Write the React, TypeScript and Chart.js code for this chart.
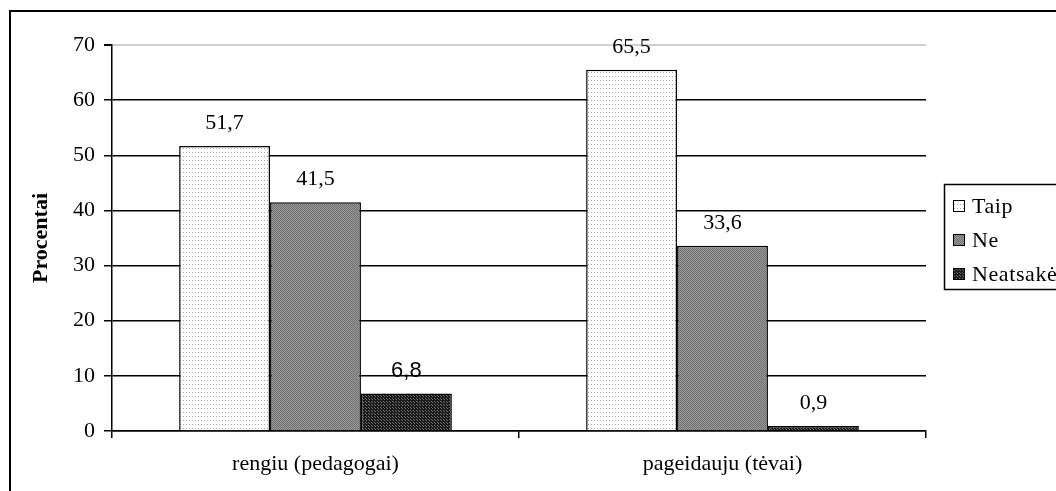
import React, { useEffect, useRef } from 'react';
import { Chart, registerables } from 'chart.js';

Chart.register(...registerables);

const categories = ['rengiu (pedagogai)', 'pageidauju (tėvai)'];
const seriesNames = ['Taip', 'Ne', 'Neatsakė'];
const taipValues = [51.7, 65.5];
const neValues = [41.5, 33.6];
const neatsakeValues = [6.8, 0.9];
const yTicks = [0, 10, 20, 30, 40, 50, 60, 70];

const SERIF = '"Liberation Serif", "Times New Roman", serif';
const SANS = '"Liberation Sans", Arial, sans-serif';
const FONT_SIZE = 22;

function makePattern(kind: string): CanvasPattern | string {
  const c = document.createElement('canvas');
  const g = c.getContext('2d');
  if (!g) return '#888';
  if (kind === 'dots') {
    c.width = 3; c.height = 4;
    g.fillStyle = '#ffffff'; g.fillRect(0, 0, 3, 4);
    g.fillStyle = '#a8a8a8'; g.fillRect(0, 0, 1, 1);
  } else if (kind === 'grey') {
    c.width = 2; c.height = 2;
    g.fillStyle = '#969696'; g.fillRect(0, 0, 2, 2);
    g.fillStyle = '#747474'; g.fillRect(0, 0, 1, 1); g.fillRect(1, 1, 1, 1);
  } else {
    c.width = 3; c.height = 3;
    g.fillStyle = '#1c1c1c'; g.fillRect(0, 0, 3, 3);
    g.fillStyle = '#6a6a6a'; g.fillRect(0, 0, 1, 1); g.fillRect(2, 2, 1, 1);
  }
  const p = g.createPattern(c, 'repeat');
  return p || '#888';
}

const framePlugin = {
  id: 'frame',
  beforeDraw(chart: any) {
    const ctx = chart.ctx;
    ctx.save();
    ctx.fillStyle = '#ffffff';
    ctx.fillRect(0, 0, chart.width, chart.height);
    ctx.strokeStyle = '#000';
    ctx.lineWidth = 2;
    ctx.strokeRect(10, 11, 3000, 3000);
    ctx.restore();
  },
};

const valueLabelPlugin = {
  id: 'valueLabels',
  afterDatasetsDraw(chart: any) {
    const ctx = chart.ctx;
    ctx.save();
    ctx.fillStyle = '#000';
    ctx.textAlign = 'center';
    ctx.textBaseline = 'middle';
    chart.data.datasets.forEach((ds: any, di: number) => {
      const meta = chart.getDatasetMeta(di);
      meta.data.forEach((bar: any, i: number) => {
        const v = ds.data[i] as number;
        const sans = di === 2 && i === 0;
        ctx.font = `${FONT_SIZE}px ${sans ? SANS : SERIF}`;
        ctx.fillText(v.toFixed(1).replace('.', ','), bar.x, bar.y - 23);
      });
    });
    ctx.restore();
  },
};

const legendPlugin = {
  id: 'customLegend',
  afterDraw(chart: any) {
    const ctx = chart.ctx;
    ctx.save();
    ctx.strokeStyle = '#000';
    ctx.lineWidth = 1.5;
    ctx.strokeRect(944.5, 184.5, 300, 105);
    ctx.font = `${FONT_SIZE}px ${SERIF}`;
    ctx.textBaseline = 'middle';
    ctx.textAlign = 'left';
    try { (ctx as any).letterSpacing = '0.6px'; } catch (e) { /* ignore */ }
    chart.data.datasets.forEach((ds: any, i: number) => {
      const cy = 206 + i * 34;
      ctx.fillStyle = ds.backgroundColor;
      ctx.fillRect(953, cy - 6, 12, 12);
      ctx.lineWidth = 1;
      ctx.strokeStyle = '#000';
      ctx.strokeRect(953.5, cy - 5.5, 11, 11);
      ctx.fillStyle = '#000';
      ctx.fillText(ds.label, 972, cy + 1);
    });
    ctx.restore();
  },
};

export default function App() {
  const ref = useRef<HTMLCanvasElement | null>(null);

  useEffect(() => {
    if (!ref.current) return;
    Chart.defaults.color = '#000';
    const fills = [makePattern('dots'), makePattern('grey'), makePattern('dark')];
    const values = [taipValues, neValues, neatsakeValues];
    const chart = new Chart(ref.current, {
      type: 'bar',
      data: {
        labels: categories,
        datasets: seriesNames.map((name, i) => ({
          label: name,
          data: values[i],
          backgroundColor: fills[i] as any,
          borderColor: '#000',
          borderWidth: 1.5,
          categoryPercentage: 0.67,
          barPercentage: 1,
        })),
      },
      options: {
        animation: false,
        responsive: false,
        devicePixelRatio: 1,
        layout: { padding: { top: 45, right: 130, bottom: 0, left: 0 } },
        plugins: {
          legend: { display: false },
          tooltip: { enabled: false },
        },
        scales: {
          x: {
            offset: true,
            grid: {
              offset: true,
              drawOnChartArea: false,
              drawTicks: true,
              tickLength: 7,
              color: '#000',
              lineWidth: 1.5,
            },
            border: { display: true, color: '#000', width: 1.5 },
            ticks: {
              color: '#000',
              font: { family: SERIF, size: FONT_SIZE },
              padding: 13,
              maxRotation: 0,
            },
            afterFit: (scale: any) => { scale.height = 60; },
          },
          y: {
            min: 0,
            max: 70,
            afterBuildTicks: (scale: any) => {
              scale.ticks = yTicks.map((v) => ({ value: v }));
            },
            grid: {
              color: (c: any) => (c.tick && c.tick.value === 70 ? '#d0d0d0' : '#000'),
              lineWidth: (c: any) => (c.tick && c.tick.value === 70 ? 2 : 1.5),
              tickColor: '#000',
              tickLength: 8,
              drawTicks: true,
            },
            border: { display: true, color: '#000', width: 1.5 },
            ticks: {
              color: '#000',
              font: { family: SERIF, size: FONT_SIZE },
              padding: 9,
            },
            title: {
              display: true,
              text: 'Procentai',
              color: '#000',
              font: { family: SERIF, size: FONT_SIZE, weight: 'bold' },
              padding: { top: 28, bottom: 0 },
            },
            afterFit: (scale: any) => { scale.width = 112; },
          },
        },
      },
      plugins: [framePlugin, valueLabelPlugin, legendPlugin],
    });
    return () => chart.destroy();
  }, []);

  return (
    <div style={{ position: 'absolute', left: 0, top: 0, width: 1056, height: 491 }}>
      <canvas ref={ref} width={1056} height={491} />
    </div>
  );
}
